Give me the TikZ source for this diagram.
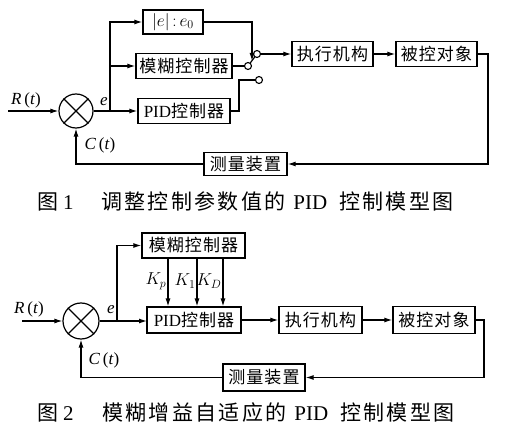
\documentclass[tikz,border=0pt]{standalone}
\usepackage{fontspec}
\setmainfont{Liberation Serif}
\newfontfamily\cjk{Noto Sans CJK SC}[LetterSpace=6]
\newfontfamily\capcjk{Noto Sans CJK SC}[LetterSpace=11]
\usetikzlibrary{arrows.meta}
\newcommand\zh[1]{{\cjk #1}}
\tikzset{
  blk/.style={draw, line width=1.3pt, inner sep=0pt, minimum height=25pt, font=\fontsize{17}{17}\selectfont},
  sumnode/.style={draw, circle, line width=1.2pt, minimum size=34pt, inner sep=0pt},
  conn/.style={line width=1.2pt},
  arr/.style={conn, -{Latex[length=8pt,width=5pt]}},
  contact/.style={draw, circle, line width=1.1pt, minimum size=7pt, inner sep=0pt, fill=white},
  lbl/.style={font=\fontsize{17}{17}\selectfont, inner sep=0pt},
  captext/.style={font=\fontsize{21}{21}\selectfont, inner sep=0pt, anchor=west},
}
\begin{document}
\begin{tikzpicture}[x=1pt,y=-1pt]
\fill[white] (0,0) rectangle (515,433);
\useasboundingbox (0,0) rectangle (515,433);

% ---------------- Figure 1 ----------------
\node[sumnode] (sum1) at (76,111) {};
\draw[conn] (sum1.north west) -- (sum1.south east) (sum1.north east) -- (sum1.south west);
\node[blk, minimum width=60pt, minimum height=24pt] (abs1) at (173,22) {$|e|\,{:}\,e_0$};
\node[blk, minimum width=96pt] (fz1) at (184,66) {\zh{模糊控制器}};
\node[blk, minimum width=92pt] (pid1) at (184,111) {PID\zh{控制器}};
\node[blk, minimum width=81pt] (act1) at (332.5,54) {\zh{执行机构}};
\node[blk, minimum width=81pt] (plant1) at (436.5,54) {\zh{被控对象}};
\node[blk, minimum width=83pt, minimum height=23pt] (meas1) at (245.5,164) {\zh{测量装置}};

\node[contact] (piv) at (248,66) {};
\node[contact] (up) at (257,54) {};
\node[contact] (low) at (259,80) {};
\coordinate (bladeA) at (250.1,63.2);
\coordinate (bladeB) at (254.9,56.8);
\draw[conn] (bladeA) -- (bladeB);
\coordinate (swin) at (252,61);
\draw[arr] (abs1.east) -| (swin);
\draw[conn] (fz1.east) -- (piv.west);
\coordinate (pidk) at (239,111);
\draw[conn] (pid1.east) -- (pidk) |- (low.west);
\draw[arr] (up.east) -- (act1.west);
\draw[arr] (act1.east) -- (plant1.west);
\coordinate (rt1) at (488,164);
\draw[arr] (plant1.east) -| (rt1) -- (meas1.east);
\draw[arr] (meas1.west) -| (sum1.south);

\coordinate (in1) at (8,111);
\draw[arr] (in1) -- (sum1.west);
\draw[arr] (sum1.east) -- (pid1.west);
\coordinate (br1) at (110,111);
\coordinate (br1m) at (110,66);
\draw[arr] (br1) |- (abs1.west);
\draw[arr] (br1m) -- (fz1.west);

\node[lbl] (R1) at (26,100) {\textit{R}\,(\textit{t})};
\node[lbl] (e1) at (104,102) {\textit{e}};
\node[lbl] (C1) at (100,145) {\textit{C}\,(\textit{t})};

\node[captext] (cap1a) at (37,202) {{\capcjk 图}\hspace{5pt}1};
\node[captext] (cap1b) at (101,202) {{\capcjk 调整控制参数值的}\hspace{8pt}PID\hspace{12pt}{\capcjk 控制模型图}};

% ---------------- Figure 2 ----------------
\node[sumnode, minimum size=36pt] (sum2) at (81,321) {};
\draw[conn] (sum2.north west) -- (sum2.south east) (sum2.north east) -- (sum2.south west);
\node[blk, minimum width=103pt, minimum height=25pt] (fz2) at (193.5,245.5) {\zh{模糊控制器}};
\node[blk, minimum width=94pt, minimum height=26pt] (pid2) at (194,320) {PID\zh{控制器}};
\node[blk, minimum width=83pt, minimum height=27pt] (act2) at (320.5,320) {\zh{执行机构}};
\node[blk, minimum width=82pt, minimum height=27pt] (plant2) at (434,320) {\zh{被控对象}};
\node[blk, minimum width=82pt, minimum height=27pt] (meas2) at (264,377.5) {\zh{测量装置}};

\coordinate (in2) at (22,321);
\draw[arr] (in2) -- (sum2.west);
\coordinate (pidw) at (147,321);
\draw[arr] (sum2.east) -- (pidw);
\coordinate (br2) at (117,321);
\draw[arr] (br2) |- (fz2.west);

\coordinate (k1a) at (168,258);
\coordinate (k1b) at (168,306.5);
\coordinate (k2a) at (197,258);
\coordinate (k2b) at (197,306.5);
\coordinate (k3a) at (223,258);
\coordinate (k3b) at (223,306.5);
\draw[arr] (k1a) -- (k1b);
\draw[arr] (k2a) -- (k2b);
\draw[arr] (k3a) -- (k3b);
\node[lbl] (kp) at (156,281) {$K_p$};
\node[lbl] (ki) at (185,281) {$K_1$};
\node[lbl] (kd) at (209,281) {$K_D$};

\draw[arr] (pid2.east) -- (act2.west);
\draw[arr] (act2.east) -- (plant2.west);
\coordinate (rt2) at (484,377.5);
\draw[arr] (plant2.east) -| (rt2) -- (meas2.east);
\draw[arr] (meas2.west) -| (sum2.south);

\node[lbl] (R2) at (29,309) {\textit{R}\,(\textit{t})};
\node[lbl] (e2) at (111,310) {\textit{e}};
\node[lbl] (C2) at (104,360) {\textit{C}\,(\textit{t})};

\node[captext] (cap2a) at (37,412.5) {{\capcjk 图}\hspace{5pt}2};
\node[captext] (cap2b) at (102,412.5) {{\capcjk 模糊增益自适应的}\hspace{8pt}PID\hspace{12pt}{\capcjk 控制模型图}};
\end{tikzpicture}
\end{document}
